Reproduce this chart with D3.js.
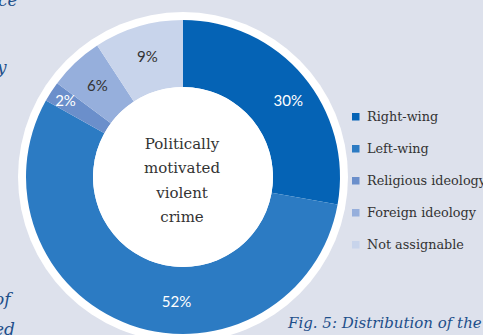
<!DOCTYPE html>
<html><head><meta charset="utf-8">
<script src="https://cdn.jsdelivr.net/npm/d3@7"></script>
<style>
html,body{margin:0;padding:0;background:#dde1ec;}
svg{display:block;}
</style></head>
<body>
<svg id="chart" width="483" height="335"></svg>
<script>
const categories = ["Right-wing", "Left-wing", "Religious ideology", "Foreign ideology", "Not assignable"];
// slice sizes as drawn in the picture (percent of the full ring)
const shares = [27.8, 55.3, 2.1, 5.6, 9.2];
// printed labels
const labels = ["30%", "52%", "2%", "6%", "9%"];
const colors = ["#0563b5", "#2c7bc3", "#6b8fcb", "#96afdc", "#c8d4eb"];
const labelColors = ["#ffffff", "#ffffff", "#ffffff", "#333333", "#333333"];
const centerLines = ["Politically", "motivated", "violent", "crime"];

const svg = d3.select("#chart");
const W = 483, H = 335;
svg.append("rect").attr("width", W).attr("height", H).attr("fill", "#dde1ec");

// surrounding page text fragments
const frag = svg.append("g").attr("fill", "#1d4f8a").attr("font-family", "DejaVu Serif, serif")
  .attr("font-style", "italic").attr("font-size", 17);
frag.append("text").attr("x", -2).attr("y", 6).text("ce");
frag.append("text").attr("x", -3).attr("y", 73).text("y");
frag.append("text").attr("x", -6).attr("y", 305).text("of");
frag.append("text").attr("x", -6).attr("y", 335).text("ed");
svg.append("text").attr("x", 288).attr("y", 328).attr("fill", "#1d4f8a")
  .attr("font-family", "DejaVu Serif, serif").attr("font-style", "italic").attr("font-size", 15)
  .text("Fig. 5: Distribution of the");

const cx = 183, cy = 177, rOuter = 157, rInner = 90, rRing = 165;
const g = svg.append("g").attr("transform", `translate(${cx},${cy})`);
g.append("circle").attr("r", rRing).attr("fill", "#ffffff");

const data = categories.map((c, i) => ({cat: c, value: shares[i], label: labels[i], color: colors[i], lc: labelColors[i]}));
const pie = d3.pie().value(d => d.value).sort(null);
const arcs = pie(data);
const arc = d3.arc().innerRadius(rInner).outerRadius(rOuter);
g.selectAll("path.slice").data(arcs).join("path").attr("class", "slice")
  .attr("d", arc).attr("fill", d => d.data.color);
g.append("circle").attr("r", rInner).attr("fill", "#ffffff");

const deg = Math.PI / 180;
g.selectAll("text.pct").data(arcs).join("text").attr("class", "pct")
  .attr("transform", d => {
    let a = (d.startAngle + d.endAngle) / 2;
    let r = (rInner + rOuter) / 2 + 1.5;
    if (d.index === 0) { a += 4 * deg; r = 130; }
    if (d.index === 1) { a = 183 * deg; r = 125; }
    if (d.index === 2) { r = 140; }
    return `translate(${r * Math.sin(a)},${-r * Math.cos(a) + 5})`;
  })
  .attr("text-anchor", "middle").attr("font-family", "Lato, sans-serif").attr("font-size", 15)
  .attr("fill", d => d.data.lc).text(d => d.data.label);

const ct = g.append("text").attr("text-anchor", "middle").attr("fill", "#333333")
  .attr("font-family", "DejaVu Serif, serif").attr("font-size", 15);
centerLines.forEach((t, i) => {
  ct.append("tspan").attr("x", -1).attr("y", 149 - cy + i * 24.3).text(t);
});

const leg = svg.append("g").attr("transform", "translate(352,121)");
const rows = leg.selectAll("g").data(data).join("g").attr("transform", (d, i) => `translate(0,${i * 32})`);
rows.append("rect").attr("x", 0).attr("y", -8).attr("width", 7.5).attr("height", 7.5).attr("fill", d => d.color);
rows.append("text").attr("x", 15).attr("y", 0).attr("font-family", "DejaVu Serif, serif").attr("font-size", 12.8)
  .attr("fill", "#333333").text(d => d.cat);
</script>
</body></html>
